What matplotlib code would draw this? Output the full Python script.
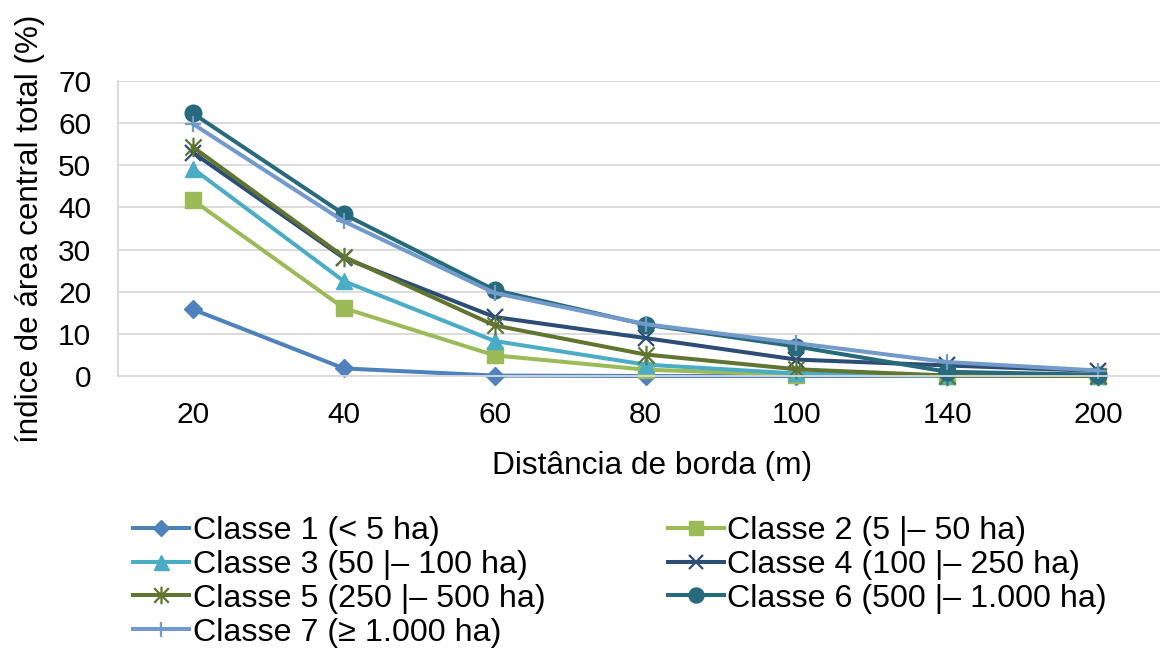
import matplotlib
matplotlib.use("Agg")
import matplotlib.pyplot as plt
from matplotlib.path import Path
import numpy as np

plt.rcParams['font.family'] = ['Liberation Sans', 'DejaVu Sans']

categories = ["20", "40", "60", "80", "100", "140", "200"]

classe1 = [15.8, 1.8, 0.1, 0.0, 0.0, 0.0, 0.0]
classe2 = [41.7, 16.1, 4.9, 1.5, 0.3, 0.1, 0.0]
classe3 = [49.2, 22.5, 8.3, 2.7, 0.6, 0.1, 0.0]
classe4 = [53.0, 28.0, 14.0, 9.0, 3.9, 2.5, 1.2]
classe5 = [54.3, 28.3, 12.0, 5.1, 1.6, 0.1, 0.0]
classe6 = [62.3, 38.4, 20.4, 12.2, 7.0, 1.0, 0.3]
classe7 = [59.8, 36.7, 19.7, 12.3, 7.8, 3.3, 1.3]

labels = ["Classe 1 (< 5 ha)", "Classe 2 (5 |\u2013 50 ha)", "Classe 3 (50 |\u2013 100 ha)",
          "Classe 4 (100 |\u2013 250 ha)", "Classe 5 (250 |\u2013 500 ha)",
          "Classe 6 (500 |\u2013 1.000 ha)", "Classe 7 (\u2265 1.000 ha)"]
series = [classe1, classe2, classe3, classe4, classe5, classe6, classe7]
colors = ["#4F81BD", "#9BBB59", "#4BACC6", "#2C4D75", "#5F7530", "#276A7C", "#729ACA"]

# Excel-like star marker: X plus vertical bar
star_path = Path([(-0.5, -0.5), (0.5, 0.5), (-0.5, 0.5), (0.5, -0.5), (0, -0.6), (0, 0.6)],
                 [Path.MOVETO, Path.LINETO, Path.MOVETO, Path.LINETO, Path.MOVETO, Path.LINETO])

markers = ["D", "s", "^", "x", star_path, "o", "+"]
msizes = [9, 11, 12, 11, 14, 12, 12]
mews = [1, 1, 1, 1.6, 1.6, 1, 1.6]

W, H = 1160, 649
fig = plt.figure(figsize=(W / 100, H / 100), dpi=100)
left, right, top, bottom = 117.6, 1173.4, 81, 376
ax = fig.add_axes([left / W, 1 - bottom / H, (right - left) / W, (bottom - top) / H])

x = np.arange(len(categories))
handles = []
for s, lab, c, m, ms, mew in zip(series, labels, colors, markers, msizes, mews):
    h, = ax.plot(x, s, color=c, lw=2.9, marker=m, ms=ms, mec=c, mfc=c, mew=mew,
                 label=lab, clip_on=False, solid_joinstyle='round')
    handles.append(h)

ax.set_xlim(-0.5, len(categories) - 0.5)
ax.set_ylim(0, 70)
ax.set_yticks(np.arange(0, 71, 10))
ax.set_xticks(x)
ax.set_xticklabels(categories)
ax.grid(axis='y', color='#D9D9D9', lw=1.3)
ax.set_axisbelow(True)
for sp in ['top', 'right']:
    ax.spines[sp].set_visible(False)
ax.spines['left'].set_color('#D9D9D9')
ax.spines['bottom'].set_color('#D9D9D9')
ax.spines['left'].set_linewidth(1.3)
ax.spines['bottom'].set_linewidth(1.3)
ax.tick_params(axis='both', length=0, labelsize=21.5, colors='#000000')
ax.tick_params(axis='y', pad=19)
ax.tick_params(axis='x', pad=18)

ax.set_xlabel("Dist\u00e2ncia de borda (m)", fontsize=22.8)
ax.xaxis.set_label_coords((652 - left) / (right - left), (bottom - 466) / (bottom - top))
ax.xaxis.label.set_va('center')
ax.set_ylabel("\u00edndice de \u00e1rea central total (%)", fontsize=22.6)
ax.yaxis.set_label_coords((30 - left) / (right - left), (bottom - 229) / (bottom - top))
ax.yaxis.label.set_va('center')

order = [0, 2, 4, 6, 1, 3, 5]
leg = fig.legend([handles[i] for i in order], [labels[i] for i in order],
                 ncol=2, loc='upper left', bbox_to_anchor=(133 / W, 1 - 516 / H),
                 frameon=False, fontsize=23.2, borderpad=0, borderaxespad=0,
                 handlelength=1.75, handletextpad=0.1, labelspacing=0.12,
                 columnspacing=3.8, markerscale=0.9)

fig.savefig("out.png", dpi=100)
